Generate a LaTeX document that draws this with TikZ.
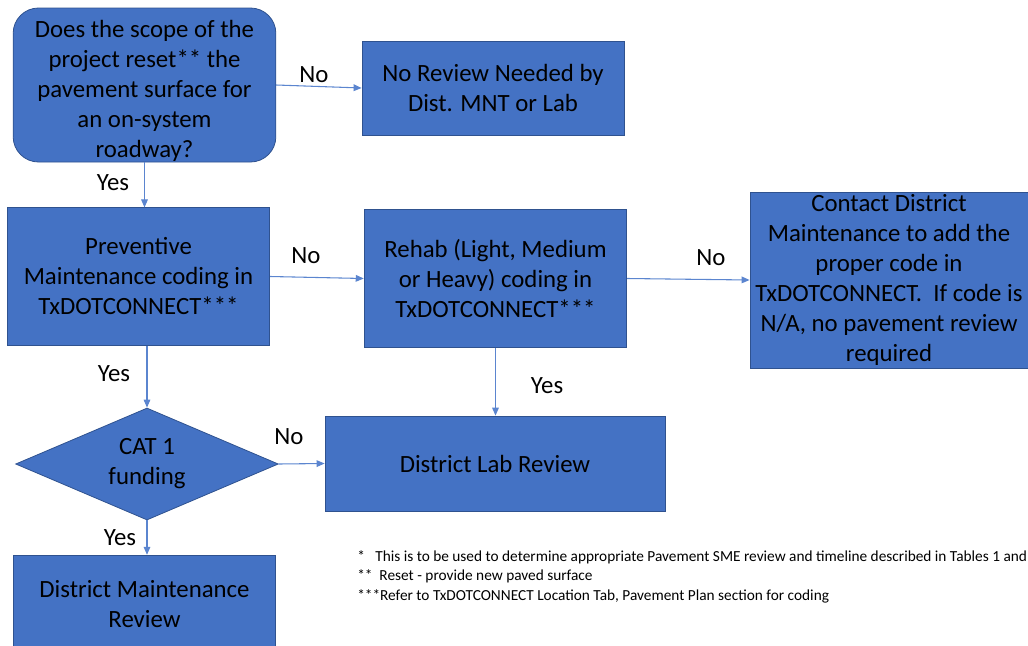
\documentclass[tikz,border=0pt]{standalone}
\usepackage{fontspec}
\setmainfont{Carlito}
\usetikzlibrary{shapes.geometric,arrows.meta}
\definecolor{boxblue}{HTML}{4472C4}
\definecolor{edgeblue}{HTML}{2F528F}
\definecolor{lineblue}{HTML}{5B85CF}
\tikzset{
  box/.style={draw=edgeblue, line width=0.6pt, fill=boxblue, align=center, inner sep=0pt},
  decision/.style={box, diamond, aspect=2.35},
  flow/.style={draw=lineblue, line width=0.8pt, -{Triangle[length=6pt,width=5pt]}},
  lbl/.style={inner sep=0pt}
}
\begin{document}
\begin{tikzpicture}[x=0.75pt, y=-0.75pt, font=\fontsize{18.6}{22.5}\selectfont]
    \useasboundingbox (0,0) rectangle (1028,646);
    % boxes
    \node[box, rounded corners=19pt, minimum width=197pt, minimum height=115.5pt] (scope) at (144.5,85)
        {\rule{0pt}{21pt}Does the scope of the\\ project reset** the\\ pavement surface for\\ an on-system\\ roadway?};
    \node[box, minimum width=196.5pt, minimum height=70.5pt] (noreview) at (493,88)
        {No Review Needed by\\ Dist. MNT or Lab};
    \node[box, minimum width=197pt, minimum height=103pt] (pm) at (138.5,276.5)
        {Preventive\\ Maintenance coding in\\ TxDOTCONNECT***};
    \node[box, minimum width=197pt, minimum height=103pt] (rehab) at (495.5,278.5)
        {Rehab (Light, Medium\\ or Heavy) coding in\\ TxDOTCONNECT***};
    \node[box, minimum width=208.5pt, minimum height=132pt] (contact) at (889,280)
        {Contact District\\ Maintenance to add the\\ proper code in\\ TxDOTCONNECT.\ \ If code is\\ N/A, no pavement review\\ required};
    \node[decision, minimum width=197pt, minimum height=84pt] (cat) at (147,464)
        {CAT 1\\ funding};
    \node[box, minimum width=255pt, minimum height=71.25pt] (lab) at (495,463.5)
        {District Lab Review};
    \node[box, minimum width=197pt, minimum height=74pt] (dmr) at (144.5,604.5)
        {District Maintenance\\ Review};
    % connectors
    \draw[flow] (scope.east) -- (noreview.west);
    \draw[flow] (scope.south) -- (scope.south |- pm.north);
    \draw[flow] (pm.east) -- (rehab.west);
    \draw[flow] (rehab.east) -- (contact.west);
    \draw[flow] (pm.south -| cat.north) -- (cat.north);
    \draw[flow] (rehab.south) -- (rehab.south |- lab.north);
    \draw[flow] (cat.east) -- (lab.west);
    \draw[flow] (cat.south) -- (cat.south |- dmr.north);
    % labels
    \node[lbl] (no1) at (314,75) {No};
    \node[lbl] (yes1) at (113,183) {Yes};
    \node[lbl] (no2) at (306,256) {No};
    \node[lbl] (no3) at (711,258) {No};
    \node[lbl] (yes2) at (114,374) {Yes};
    \node[lbl] (yes3) at (547,386) {Yes};
    \node[lbl] (no4) at (289,437) {No};
    \node[lbl] (yes4) at (120,538) {Yes};
    % notes
    \node[anchor=north west, inner sep=0pt, align=left, font=\fontsize{11.5}{14.8}\selectfont] (notes) at (357,550)
        {*\ \ \ This is to be used to determine appropriate Pavement SME review and timeline described in Tables 1 and\\
         **\ \ Reset - provide new paved surface\\
         ***Refer to TxDOTCONNECT Location Tab, Pavement Plan section for coding};
\end{tikzpicture}
\end{document}
